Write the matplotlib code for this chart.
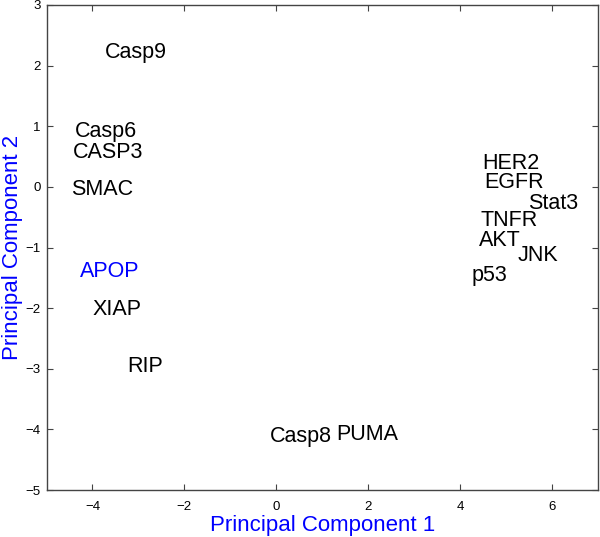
import matplotlib
matplotlib.use("Agg")
import matplotlib.pyplot as plt

plt.rcParams['font.family'] = ['Liberation Sans', 'DejaVu Sans']
plt.rcParams['axes.unicode_minus'] = True

labels = ["Casp9", "Casp6", "CASP3", "SMAC", "APOP", "XIAP", "RIP",
          "Casp8", "PUMA", "p53", "HER2", "EGFR", "Stat3", "TNFR", "AKT", "JNK"]
pc1 = [-3.72, -4.38, -4.43, -4.47, -4.27, -3.99, -3.25,
       -0.15, 1.31, 4.25, 4.49, 4.52, 5.48, 4.45, 4.41, 5.25]
pc2 = [2.22, 0.92, 0.57, -0.04, -1.39, -2.02, -2.97,
       -4.12, -4.08, -1.46, 0.39, 0.08, -0.27, -0.55, -0.88, -1.13]
colors = ["black"] * 4 + ["blue"] + ["black"] * 11

xticks = [-4, -2, 0, 2, 4, 6]
yticks = [-5, -4, -3, -2, -1, 0, 1, 2, 3]

fig = plt.figure(figsize=(6.0, 5.37), dpi=100)
ax = fig.add_axes([0.0775, 0.0875, 0.9192, 0.9032])

for lab, x, y, c in zip(labels, pc1, pc2, colors):
    ax.text(x, y, lab, ha="left", va="center", fontsize=15.5, color=c)

ax.set_xlim(-5, 7)
ax.set_ylim(-5, 3)
ax.set_xticks(xticks)
ax.set_yticks(yticks)
ax.tick_params(direction="in", length=4, top=True, right=True, labelsize=9.5,
               color="#444444", width=0.8)
ax.tick_params(axis="x", pad=8)
ax.tick_params(axis="y", pad=4)
for s in ax.spines.values():
    s.set_color("#444444")
    s.set_linewidth(1.0)

ax.set_xlabel("Principal Component 1", color="blue", fontsize=16, labelpad=1)
ax.set_ylabel("Principal Component 2", color="blue", fontsize=16, labelpad=2)

fig.savefig("out.png", dpi=100)
